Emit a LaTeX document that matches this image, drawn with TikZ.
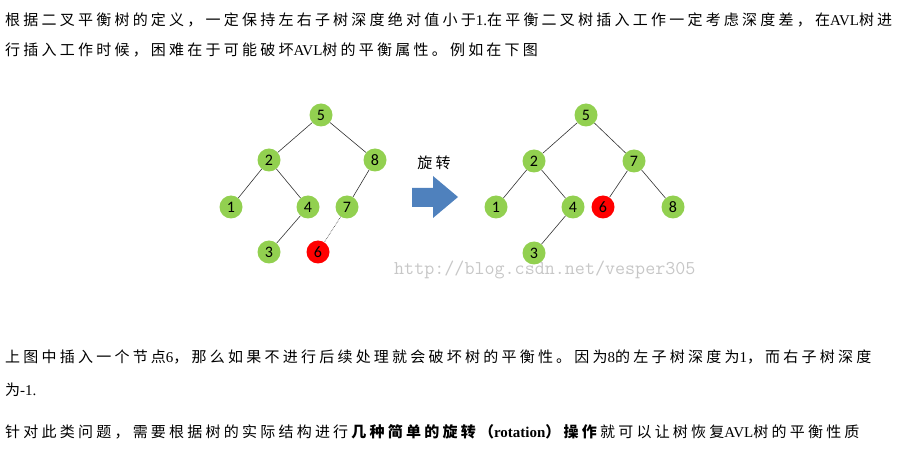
\documentclass[tikz,border=0pt]{standalone}
\usepackage{fontspec}
\setmainfont{Carlito}
\newfontfamily\cjk[LetterSpace=21.5]{Noto Sans CJK SC}
\newfontfamily\lat{Liberation Serif}
\usetikzlibrary{positioning}
\definecolor{leaf}{HTML}{92D050}
\definecolor{turnblue}{HTML}{4F81BD}

\begin{document}
\begin{tikzpicture}[x=1pt,y=-1pt,
 tn/.style={circle,fill=leaf,minimum size=23pt,inner sep=0pt,font=\fontsize{16}{16}\selectfont},
 hot/.style={tn,fill=red},
 edge/.style={draw=black!80,line width=0.6pt},
 para/.style={anchor=west,inner sep=0pt,font=\cjk\fontsize{15}{15}\selectfont}]
 \useasboundingbox (0,0) rectangle (897,454);

 % text above
 \node[para] (t1) at (5,20) {根据二叉平衡树的定义，一定保持左右子树深度绝对值小于{\lat 1.}在平衡二叉树插入工作一定考虑深度差，在{\lat AVL}树进};
 \node[para] (t2) at (5,50) {行插入工作时候，困难在于可能破坏{\lat AVL}树的平衡属性。例如在下图};

 % tree before
 \node[tn] (l5) at (321,115) {5};
 \node[tn] (l2) at (269,160) {2};
 \node[tn] (l8) at (375,160) {8};
 \node[tn] (l1) at (231,207) {1};
 \node[tn] (l4) at (308,207) {4};
 \node[tn] (l7) at (347,207) {7};
 \node[tn] (l3) at (269,252) {3};
 \node[hot] (l6) at (318,252) {6};
 \draw[edge] (l5) -- (l2);
 \draw[edge] (l5) -- (l8);
 \draw[edge] (l2) -- (l1);
 \draw[edge] (l2) -- (l4);
 \draw[edge] (l4) -- (l3);
 \draw[edge] (l8) -- (l7);
 \draw[edge,densely dotted] (l7) -- (l6);

 % rotation arrow
 \fill[turnblue] (412,188) -- (433,188) -- (433,176) -- (458,197) -- (433,218) -- (433,207) -- (412,207) -- cycle;
 \node[font=\cjk\fontsize{15}{15}\selectfont] (turn) at (434,163) {旋转};

 % tree after
 \node[tn] (r5) at (586,115) {5};
 \node[tn] (r2) at (534,161) {2};
 \node[tn] (r7) at (634,161) {7};
 \node[tn] (r1) at (496,207) {1};
 \node[tn] (r4) at (573,207) {4};
 \node[hot] (r6) at (603,207) {6};
 \node[tn] (r8) at (673,207) {8};
 \node[tn] (r3) at (534,253) {3};
 \draw[edge] (r5) -- (r2);
 \draw[edge] (r5) -- (r7);
 \draw[edge] (r2) -- (r1);
 \draw[edge] (r2) -- (r4);
 \draw[edge] (r4) -- (r3);
 \draw[edge] (r7) -- (r6);
 \draw[edge] (r7) -- (r8);

 \node[anchor=west,inner sep=0pt,text=black!22,font=\ttfamily\fontsize{19.5}{19.5}\selectfont] (mark) at (394,270) {http://blog.csdn.net/vesper305};

 % text below
 \node[para] (t3) at (5,357) {上图中插入一个节点{\lat 6}，那么如果不进行后续处理就会破坏树的平衡性。因为{\lat 8}的左子树深度为{\lat 1}，而右子树深度};
 \node[para] (t4) at (5,390) {为{\lat -1.}};
 \node[para] (t5) at (5,432) {针对此类问题，需要根据树的实际结构进行\textbf{几种简单的旋转（{\lat rotation}）操作}就可以让树恢复{\lat AVL}树的平衡性质};
\end{tikzpicture}
\end{document}
